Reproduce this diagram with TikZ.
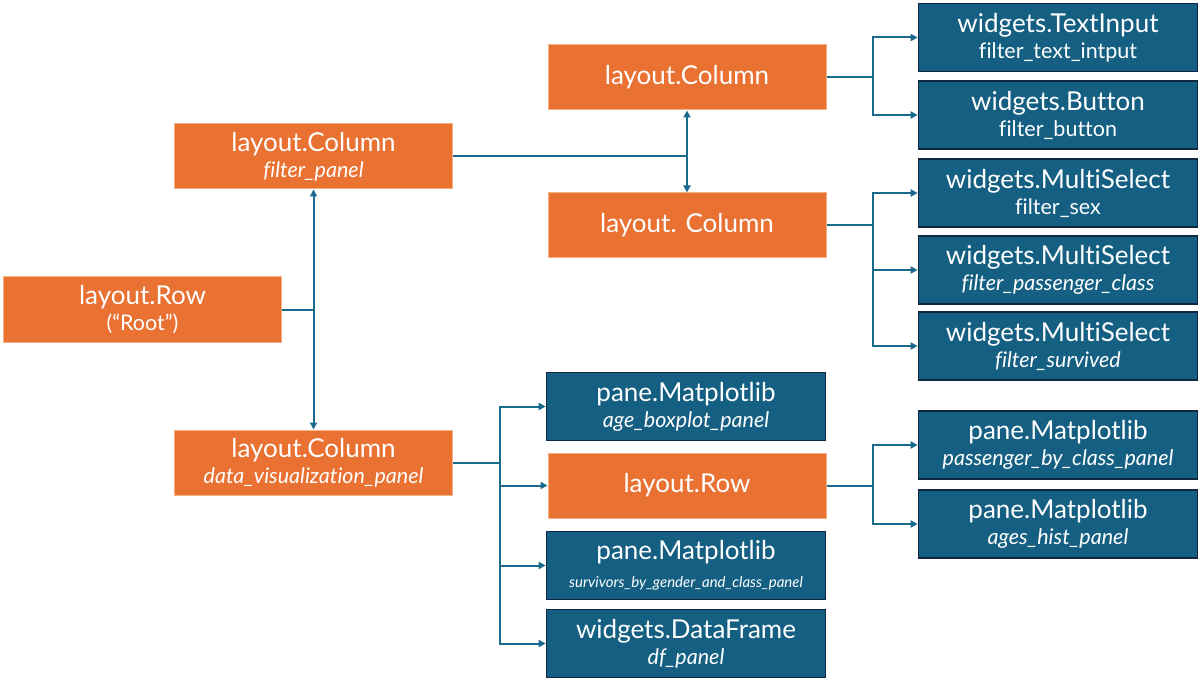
\documentclass[tikz,border=0pt]{standalone}
\usepackage{fontspec}
\setmainfont{Lato}[Ligatures={NoCommon}]
\usetikzlibrary{arrows.meta}
\definecolor{orng}{HTML}{E97132}
\definecolor{orngb}{HTML}{F4B183}
\definecolor{blu}{HTML}{156082}
\definecolor{blub}{HTML}{0E2841}
\definecolor{lnk}{HTML}{1A6A8E}
\newcommand\mainsz{\fontsize{26}{27}\selectfont}
\newcommand\subsz{\fontsize{21.5}{23}\selectfont}
\newcommand\twol[2]{{\mainsz #1}\\[-1pt]{\subsz #2}}
\begin{document}
\begin{tikzpicture}[x=1pt,y=-1pt,
  ob/.style={fill=orng,draw=orngb,line width=1pt,text=white,minimum width=278pt,minimum height=65pt,inner sep=0pt,align=center,font=\mainsz},
  bb/.style={fill=blu,draw=blub,line width=1.6pt,text=white,minimum width=279pt,minimum height=68pt,inner sep=0pt,align=center,font=\mainsz},
  conn/.style={draw=lnk,line width=2pt},
  arr/.style={conn,-{Triangle[width=7pt,length=7pt]}}]
\useasboundingbox (0,0) rectangle (1200,687);
% orange nodes
\node[ob] (root) at (142.5,309.5) {\twol{layout.Row}{(“Root”)}};
\node[ob] (fp) at (313.5,156.5) {\twol{layout.Column}{\itshape filter\_panel}};
\node[ob] (lc1) at (687,77.5) {layout.Column};
\node[ob] (lc2) at (687,225.5) {layout. Column};
\node[ob] (dv) at (313.5,462.5) {\twol{layout.Column}{\itshape data\_visualization\_panel}};
\node[ob] (lr) at (687,485.5) {layout.Row};
% right column blue
\node[bb] (ti) at (1058,37.5) {\twol{widgets.TextInput}{filter\_text\_intput}};
\node[bb] (btn) at (1058,115) {\twol{widgets.Button}{filter\_button}};
\node[bb] (sex) at (1058,193) {\twol{widgets.MultiSelect}{filter\_sex}};
\node[bb] (pcl) at (1058,270) {\twol{widgets.MultiSelect}{\itshape filter\_passenger\_class}};
\node[bb] (srv) at (1058,346) {\twol{widgets.MultiSelect}{\itshape filter\_survived}};
\node[bb] (pbc) at (1058,445) {\twol{pane.Matplotlib}{\itshape passenger\_by\_class\_panel}};
\node[bb] (ahp) at (1058,524) {\twol{pane.Matplotlib}{\itshape ages\_hist\_panel}};
% middle column blue
\node[bb] (abp) at (686,406.5) {\twol{pane.Matplotlib}{\itshape age\_boxplot\_panel}};
\node[bb] (sgc) at (686,565.5) {{\mainsz pane.Matplotlib}\\[1pt]{\fontsize{15}{17}\selectfont\itshape survivors\_by\_gender\_and\_class\_panel}};
\node[bb] (dfp) at (686,643.5) {\twol{widgets.DataFrame}{\itshape df\_panel}};
% junctions
\coordinate (j0) at (313.5,309.5);
\coordinate (j1) at (687,156.5);
\coordinate (j2) at (873,77.5);
\coordinate (j3) at (873,225.5);
\coordinate (j4) at (500,462.5);
\coordinate (j5) at (873,485.5);
% connectors
\draw[conn] (root.east) -- (j0);
\draw[arr] (j0) -- (fp.south);
\draw[arr] (j0) -- (dv.north);
\draw[conn] (fp.east) -- (j1);
\draw[arr] (j1) -- (lc1.south);
\draw[arr] (j1) -- (lc2.north);
\draw[conn] (lc1.east) -- (j2);
\draw[arr] (j2) |- (ti.west);
\draw[arr] (j2) |- (btn.west);
\draw[conn] (lc2.east) -- (j3);
\draw[arr] (j3) |- (sex.west);
\draw[arr] (j3) |- (pcl.west);
\draw[arr] (j3) |- (srv.west);
\draw[conn] (dv.east) -- (j4);
\draw[arr] (j4) |- (abp.west);
\draw[arr] (j4) |- (lr.west);
\draw[arr] (j4) |- (sgc.west);
\draw[arr] (j4) |- (dfp.west);
\draw[conn] (lr.east) -- (j5);
\draw[arr] (j5) |- (pbc.west);
\draw[arr] (j5) |- (ahp.west);
\end{tikzpicture}
\end{document}
